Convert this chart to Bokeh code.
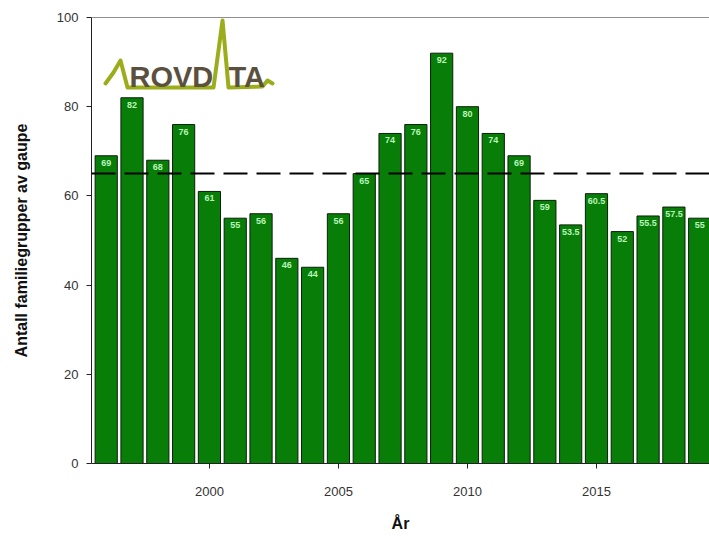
from bokeh.plotting import figure
from bokeh.models import Range1d, FixedTicker, Span, ColumnDataSource
from bokeh.core.properties import value
from bokeh.embed import file_html
from bokeh.resources import INLINE

# ---- data ----
years = [1996, 1997, 1998, 1999, 2000, 2001, 2002, 2003, 2004, 2005, 2006, 2007,
         2008, 2009, 2010, 2011, 2012, 2013, 2014, 2015, 2016, 2017, 2018, 2019]
counts = [69, 82, 68, 76, 61, 55, 56, 46, 44, 56, 65, 74,
          76, 92, 80, 74, 69, 59, 53.5, 60.5, 52, 55.5, 57.5, 55]
labels = ["69", "82", "68", "76", "61", "55", "56", "46", "44", "56", "65", "74",
          "76", "92", "80", "74", "69", "59", "53.5", "60.5", "52", "55.5", "57.5", "55"]
reference_level = 65
x_ticks = [2000, 2005, 2010, 2015]
y_ticks = [0, 20, 40, 60, 80, 100]

X0, X1 = 1995.43, 2019.38
Y0, Y1 = 0, 100

p = figure(width=709, height=536, output_backend="svg", toolbar_location=None,
           x_range=Range1d(X0, X1), y_range=Range1d(Y0, Y1),
           min_border_left=91, min_border_right=0, min_border_top=17, min_border_bottom=73)
p.outline_line_color = None
p.grid.grid_line_color = None
p.background_fill_color = "white"

src = ColumnDataSource(dict(x=years, top=counts, lab=labels))
p.vbar(x="x", top="top", bottom=0, width=0.86, source=src,
       fill_color="#087d08", line_color="#0b200b", line_width=1)

p.add_layout(Span(location=reference_level, dimension="width", line_color="black",
                  line_width=2, line_dash="24 9"))
p.add_layout(Span(location=Y1, dimension="width", line_color="#222222", line_width=1))

p.text(x="x", y="top", text="lab", source=src, text_align="center",
       text_baseline="top", y_offset=4, text_font_size="9px", text_font_style="bold",
       text_color="#b8f5b8", text_font=value("Liberation Sans"))

# ---- logo (decoration) ----
def sx(px):
    return X0 + (px - 91) / 25.8

def sy(py):
    return (463 - py) / 4.46

lx = [105, 113, 120, 127, 213, 222, 228, 262, 267, 272]
ly = [83, 72, 60, 87, 87, 20, 87, 86, 80, 83]
p.line([sx(v) for v in lx], [sy(v) for v in ly], line_color="#9cad1c", line_width=4,
       line_join="round", line_cap="round")
p.text(x=[sx(129), sx(228)], y=[sy(76), sy(76)], text=["ROVD", "TA"],
       text_align="left", text_baseline="alphabetic", text_font_size="29px",
       text_font_style="bold", text_color="#5b503e",
       text_font=value("Liberation Sans"))

# ---- axes ----
for ax in (p.xaxis[0], p.yaxis[0]):
    ax.axis_line_color = "#222222"
    ax.major_tick_line_color = "#222222"
    ax.major_tick_out = 5
    ax.major_tick_in = 0
    ax.minor_tick_line_color = None
    ax.major_label_text_font = "Liberation Sans"
    ax.major_label_text_font_size = "13px"
    ax.major_label_text_color = "#333333"
    ax.axis_label_text_font = "Liberation Sans"
    ax.axis_label_text_font_size = "16px"
    ax.axis_label_text_font_style = "bold"
    ax.axis_label_text_color = "#111111"

p.xaxis.ticker = FixedTicker(ticks=x_ticks)
p.yaxis.ticker = FixedTicker(ticks=y_ticks)
p.xaxis.axis_label = "År"
p.yaxis.axis_label = "Antall familiegrupper av gaupe"
p.xaxis.major_label_standoff = 18
p.xaxis.axis_label_standoff = 16
p.yaxis.major_label_standoff = 8
p.yaxis.axis_label_standoff = 24

open("out.html", "w").write(file_html(p, INLINE))
